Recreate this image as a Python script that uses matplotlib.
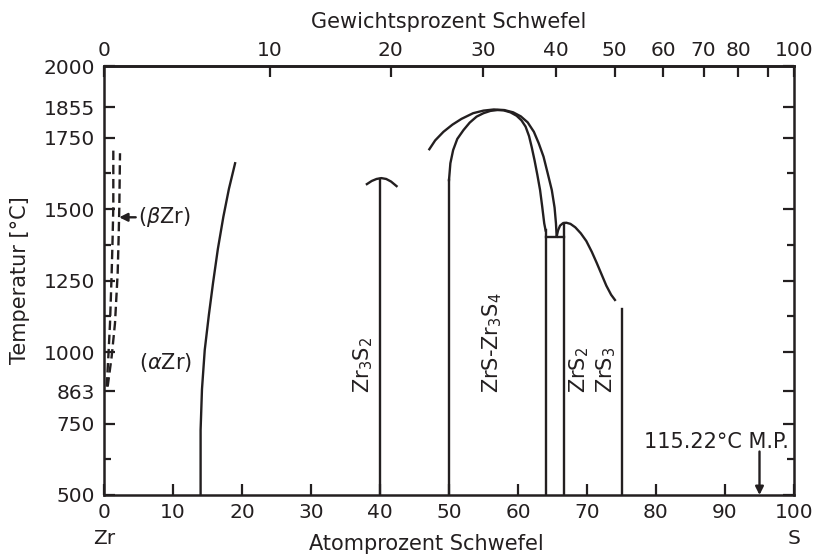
import numpy as np
import matplotlib
matplotlib.use("Agg")
import matplotlib.pyplot as plt

# Zr-S Zustandsdiagramm (Atom-% unten, Gewichts-% oben)
INK = "#231f20"

# Liquidus auf der Zr-Seite
liq_zr_x = [14.0, 14.0, 14.2, 14.6, 15.2, 15.8, 16.5, 17.3, 18.1, 19.0]
liq_zr_T = [500, 727, 870, 1007, 1130, 1241, 1360, 1473, 1570, 1660]

# gestrichelte (beta Zr)-Grenzen
beta_li_x = [0.39, 0.63, 0.87, 1.11, 1.25, 1.35, 1.35]
beta_li_T = [879, 984, 1100, 1275, 1400, 1508, 1712]
beta_re_x = [0.53, 1.11, 1.59, 1.98, 2.12, 2.22, 2.32]
beta_re_T = [879, 984, 1100, 1275, 1400, 1508, 1695]

# Zr3S2 Kuppe
zr3s2_x = [38.1, 38.8, 39.5, 40.2, 40.9, 41.6, 42.4]
zr3s2_T = [1587, 1598, 1605, 1608, 1605, 1596, 1580]

# aeussere Kuppe (Liquidus) ZrS-Zr3S4
aussen_x = [47.15, 48.0, 49.2, 50.5, 51.8, 53.5, 55.0, 56.5, 58.0, 59.3,
            60.4, 61.4, 62.3, 63.0, 63.7, 64.3, 64.9, 65.3, 65.5, 65.6]
aussen_T = [1709, 1740, 1770, 1795, 1815, 1835, 1844, 1848, 1846, 1838,
            1824, 1803, 1770, 1730, 1683, 1625, 1566, 1505, 1450, 1405]

# innere Kuppe (Solidus) ZrS-Zr3S4
innen_x = [50.0, 50.2, 50.6, 51.2, 52.1, 53.0, 54.0, 55.0, 56.0, 57.0, 57.9,
           58.9, 59.8, 60.5, 61.1, 61.6, 62.0, 62.4, 62.8, 63.2, 63.5, 63.8, 64.0]
innen_T = [1601, 1660, 1706, 1745, 1776, 1802, 1823, 1835, 1843, 1846, 1845,
           1838, 1826, 1810, 1788, 1755, 1715, 1670, 1620, 1566, 1510, 1450, 1425]

# ZrS2 Kuppe
zrs2_x = [65.6, 65.8, 66.1, 66.5, 67.0, 67.6, 68.3, 69.1, 69.9, 70.7,
          71.4, 72.1, 72.8, 73.5, 74.05]
zrs2_T = [1403, 1425, 1442, 1450, 1452, 1448, 1436, 1415, 1388, 1350,
          1312, 1272, 1232, 1200, 1182]

# senkrechte Phasenlinien: (x, T_oben)
linien_x = [40.0, 50.0, 64.0, 66.67, 75.0]
linien_T = [1606, 1601, 1425, 1450, 1150]
peritektikum_T = 1403

# Achsen
temp_ticks = [500, 750, 863, 1000, 1250, 1500, 1750, 1855, 2000]
temp_minor = [625, 1125, 1375, 1625]
at_ticks = [0, 10, 20, 30, 40, 50, 60, 70, 80, 90, 100]
at_labels = ["0\nZr", "10", "20", "30", "40", "50", "60", "70", "80", "90", "100\nS"]
wt_ticks = [0, 10, 20, 30, 40, 50, 60, 70, 80, 90, 100]
wt_labels = ["0", "10", "20", "30", "40", "50", "60", "70", "80", "", "100"]

M_S, M_ZR = 32.06, 91.224


def at2wt(a):
    a = np.asarray(a, dtype=float)
    with np.errstate(divide="ignore", invalid="ignore"):
        return 100 * a * M_S / (a * M_S + (100 - a) * M_ZR)


def wt2at(w):
    w = np.asarray(w, dtype=float)
    with np.errstate(divide="ignore", invalid="ignore"):
        return 100 * (w / M_S) / (w / M_S + (100 - w) / M_ZR)


plt.rcParams["font.family"] = "DejaVu Sans"
plt.rcParams["font.size"] = 15
plt.rcParams["text.color"] = INK
plt.rcParams["axes.labelcolor"] = INK
plt.rcParams["xtick.color"] = INK
plt.rcParams["ytick.color"] = INK

fig = plt.figure(figsize=(8.15, 5.55), dpi=100)
ax = fig.add_axes([104 / 815, 60 / 555, 690 / 815, 429 / 555])

lw = 1.7
ax.plot(liq_zr_x, liq_zr_T, color=INK, lw=lw)
ax.plot(beta_li_x, beta_li_T, color=INK, lw=lw, dashes=(4, 2))
ax.plot(beta_re_x, beta_re_T, color=INK, lw=lw, dashes=(4, 2))
ax.plot(zr3s2_x, zr3s2_T, color=INK, lw=lw)
ax.plot(aussen_x, aussen_T, color=INK, lw=lw)
ax.plot(innen_x, innen_T, color=INK, lw=lw)
ax.plot(zrs2_x, zrs2_T, color=INK, lw=lw)
for x, t in zip(linien_x, linien_T):
    ax.plot([x, x], [500, t], color=INK, lw=lw)
ax.plot([64.0, 66.67], [peritektikum_T, peritektikum_T], color=INK, lw=lw)

# Beschriftungen
ax.annotate(r"($\beta$Zr)", xy=(2.2, 1471), xytext=(5.0, 1471),
            va="center", ha="left",
            arrowprops=dict(arrowstyle="-|>", color=INK, lw=lw,
                            mutation_scale=12, shrinkA=0, shrinkB=0))
ax.text(5.1, 962, r"($\alpha$Zr)", va="center", ha="left")
ax.text(37.5, 857, r"Zr$_3$S$_2$", rotation=90, ha="center", va="bottom")
ax.text(56.2, 857, r"ZrS-Zr$_3$S$_4$", rotation=90, ha="center", va="bottom")
ax.text(68.8, 857, r"ZrS$_2$", rotation=90, ha="center", va="bottom")
ax.text(72.8, 857, r"ZrS$_3$", rotation=90, ha="center", va="bottom")
ax.annotate("", xy=(95, 500), xytext=(95, 652),
            arrowprops=dict(arrowstyle="-|>", color=INK, lw=lw,
                            mutation_scale=12, shrinkA=0, shrinkB=0))
ax.text(88.7, 684, "115.22°C M.P.", ha="center", va="center")

ax.set_xlim(0, 100)
ax.set_ylim(500, 2000)
ax.set_xticks(at_ticks)
ax.set_xticklabels(at_labels, va="top", linespacing=1.45)
ax.set_yticks(temp_ticks)
ax.set_yticks(temp_minor, minor=True)
ax.tick_params(which="both", direction="in", width=1.6, right=True,
               labelsize=14.5)
ax.tick_params(axis="y", which="major", length=8, pad=6.5)
ax.tick_params(axis="y", which="minor", length=5)
ax.tick_params(axis="x", which="major", length=8, pad=6)
for s in ax.spines.values():
    s.set_linewidth(1.8)
    s.set_color(INK)

ax.set_ylabel("Temperatur [°C]")
ax.yaxis.set_label_coords(-0.107, 0.5)
ax.set_xlabel("Atomprozent Schwefel")
ax.xaxis.set_label_coords((426.5 - 104) / 690, -0.09)

top = ax.secondary_xaxis("top", functions=(at2wt, wt2at))
top.set_xticks(wt_ticks)
top.set_xticklabels(wt_labels)
top.tick_params(direction="in", length=8, width=1.6, labelsize=14.5, pad=4)
top.set_xlabel("Gewichtsprozent Schwefel", labelpad=10)
top.spines["top"].set_linewidth(1.8)

fig.savefig("out.png", dpi=100)
